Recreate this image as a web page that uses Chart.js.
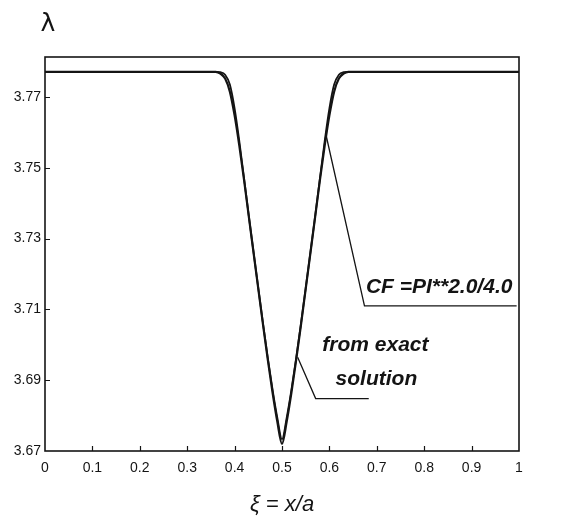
<!DOCTYPE html>
<html>
<head>
<meta charset="utf-8">
<script src="https://cdn.jsdelivr.net/npm/chart.js@4.4.1/dist/chart.umd.min.js"></script>
<style>
  html, body { margin: 0; padding: 0; background: #fff; }
</style>
</head>
<body>
<canvas id="lambdaChart" width="565" height="521"></canvas>
<script>
// ===== values =====
const xiValues = [0, 0.1, 0.2, 0.3, 0.36, 0.37, 0.38, 0.39, 0.40, 0.41, 0.42, 0.43, 0.44,
  0.45, 0.46, 0.47, 0.48, 0.49, 0.50, 0.51, 0.52, 0.53, 0.54, 0.55, 0.56, 0.57, 0.58,
  0.59, 0.60, 0.61, 0.62, 0.63, 0.64, 0.7, 0.8, 0.9, 1.0];

const exactSolution = [3.7771, 3.7771, 3.7771, 3.7771, 3.7771, 3.7766, 3.7752, 3.7715, 3.7648,
  3.7562, 3.7465, 3.7362, 3.7260, 3.7158, 3.7056, 3.6958, 3.6866, 3.6784, 3.6720,
  3.6784, 3.6866, 3.6958, 3.7056, 3.7158, 3.7260, 3.7362, 3.7465, 3.7562, 3.7648,
  3.7715, 3.7752, 3.7766, 3.7771, 3.7771, 3.7771, 3.7771, 3.7771];

const cfApprox = [3.7771, 3.7771, 3.7771, 3.7771, 3.7771, 3.7770, 3.7763, 3.7735, 3.7668,
  3.7575, 3.7470, 3.7364, 3.7262, 3.7160, 3.7060, 3.6964, 3.6874, 3.6795, 3.6733,
  3.6795, 3.6874, 3.6964, 3.7060, 3.7160, 3.7262, 3.7364, 3.7470, 3.7575, 3.7668,
  3.7735, 3.7763, 3.7770, 3.7771, 3.7771, 3.7771, 3.7771, 3.7771];

const xTickValues = [0, 0.1, 0.2, 0.3, 0.4, 0.5, 0.6, 0.7, 0.8, 0.9, 1];
const xTickLabels = ['0', '0.1', '0.2', '0.3', '0.4', '0.5', '0.6', '0.7', '0.8', '0.9', '1'];
const yTickValues = [3.67, 3.69, 3.71, 3.73, 3.75, 3.77];
const yTickLabels = ['3.67', '3.69', '3.71', '3.73', '3.75', '3.77'];

// annotation anchors in data units [xi, lambda]
const cfLeader = [[0.593, 3.7592], [0.674, 3.7110], [0.995, 3.7110]];
const cfLabel = { text: 'CF =PI**2.0/4.0', at: [0.677, 3.7162] };
const exactLeader = [[0.533, 3.6965], [0.571, 3.6848], [0.683, 3.6848]];
const exactLabel = [
  { text: 'from exact', at: [0.585, 3.7000] },
  { text: 'solution', at: [0.613, 3.6903] }
];

const INK = '#141414';

// --- box, inward ticks, lambda label and callouts ---
const frameAndNotes = {
  id: 'frameAndNotes',
  afterDraw(chart) {
    const { ctx, chartArea: a, scales: { x, y } } = chart;
    const px = p => [x.getPixelForValue(p[0]), y.getPixelForValue(p[1])];
    ctx.save();
    ctx.strokeStyle = INK;
    ctx.fillStyle = INK;

    ctx.lineWidth = 1.6;
    ctx.strokeRect(a.left, a.top, a.right - a.left, a.bottom - a.top);

    ctx.lineWidth = 1.2;
    ctx.beginPath();
    xTickValues.slice(1, -1).forEach(v => {
      const tx = Math.round(x.getPixelForValue(v)) + 0.5;
      ctx.moveTo(tx, a.bottom); ctx.lineTo(tx, a.bottom - 5);
    });
    yTickValues.slice(1).forEach(v => {
      const ty = Math.round(y.getPixelForValue(v)) + 0.5;
      ctx.moveTo(a.left, ty); ctx.lineTo(a.left + 5, ty);
    });
    ctx.stroke();

    // leader lines
    ctx.lineWidth = 1.3;
    [cfLeader, exactLeader].forEach(path => {
      ctx.beginPath();
      path.forEach((p, i) => {
        const [qx, qy] = px(p);
        i ? ctx.lineTo(qx, qy) : ctx.moveTo(qx, qy);
      });
      ctx.stroke();
    });

    ctx.font = 'italic bold 21px "Liberation Sans", Arial';
    ctx.textAlign = 'left';
    ctx.textBaseline = 'middle';
    let [lx, ly] = px(cfLabel.at);
    ctx.fillText(cfLabel.text, lx, ly);
    exactLabel.forEach(l => {
      [lx, ly] = px(l.at);
      ctx.fillText(l.text, lx, ly);
    });

    ctx.font = '25px "DejaVu Sans"';
    ctx.textAlign = 'center';
    ctx.fillText('λ', a.left + 3, 24);
    ctx.restore();
  }
};

new Chart(document.getElementById('lambdaChart').getContext('2d'), {
  type: 'line',
  data: {
    datasets: [
      {
        label: 'from exact solution',
        data: xiValues.map((v, i) => ({ x: v, y: exactSolution[i] })),
        borderColor: INK,
        borderWidth: 2.2,
        pointRadius: 0,
        cubicInterpolationMode: 'monotone',
        fill: false
      },
      {
        label: 'CF =PI**2.0/4.0',
        data: xiValues.map((v, i) => ({ x: v, y: cfApprox[i] })),
        borderColor: INK,
        borderWidth: 1.8,
        pointRadius: 0,
        cubicInterpolationMode: 'monotone',
        fill: false
      }
    ]
  },
  options: {
    responsive: false,
    animation: false,
    devicePixelRatio: 1,
    layout: { padding: { left: 0, right: 46, top: 57, bottom: 0 } },
    plugins: { legend: { display: false }, tooltip: { enabled: false } },
    scales: {
      x: {
        type: 'linear',
        min: 0,
        max: 1,
        afterBuildTicks: s => { s.ticks = xTickValues.map(v => ({ value: v })); },
        afterFit: s => { s.height = 70; },
        grid: { display: false, drawTicks: false },
        border: { display: false },
        ticks: {
          color: INK,
          padding: 9,
          maxRotation: 0,
          font: { family: 'Liberation Sans', size: 14 },
          callback: (v, i) => xTickLabels[i]
        },
        title: {
          display: true,
          text: 'ξ = x/a',
          color: INK,
          padding: { top: 0, bottom: 3 },
          font: { family: 'Liberation Sans', size: 22, style: 'italic' }
        }
      },
      y: {
        type: 'linear',
        min: 3.67,
        max: 3.7813,
        afterBuildTicks: s => { s.ticks = yTickValues.map(v => ({ value: v })); },
        afterFit: s => { s.width = 45; },
        grid: { display: false, drawTicks: false },
        border: { display: false },
        ticks: {
          color: INK,
          padding: 4,
          font: { family: 'Liberation Sans', size: 14 },
          callback: (v, i) => yTickLabels[i]
        }
      }
    }
  },
  plugins: [frameAndNotes]
});
</script>
</body>
</html>
